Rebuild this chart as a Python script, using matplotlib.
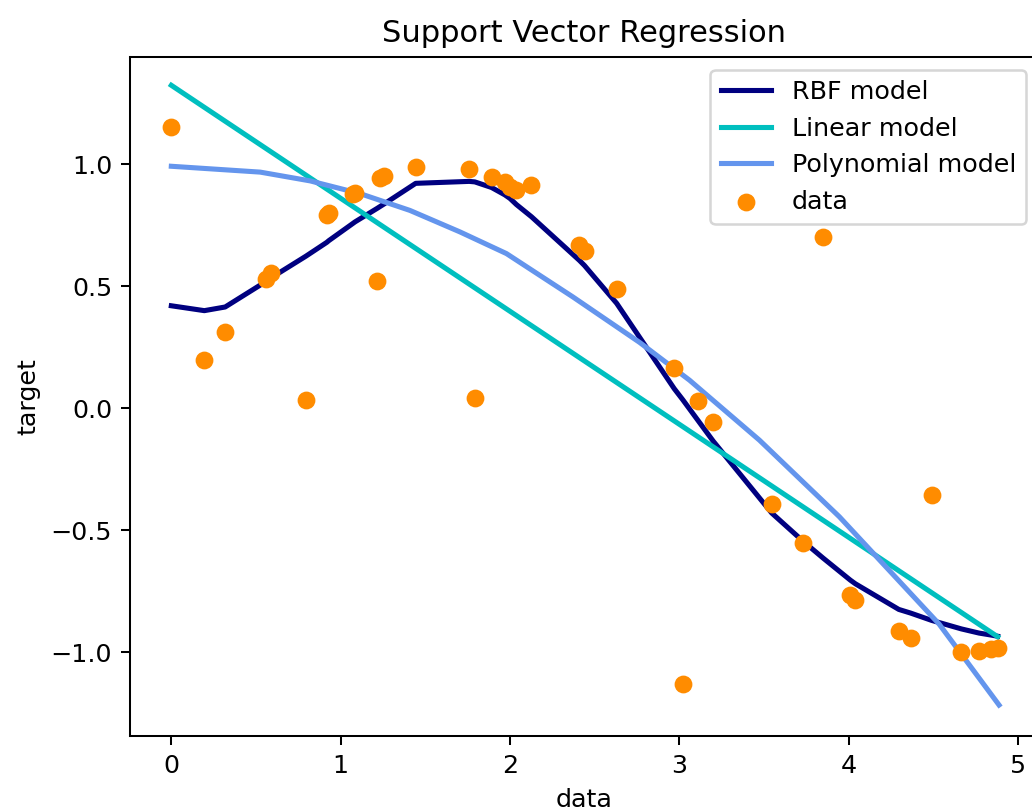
import matplotlib
matplotlib.use("Agg")
import matplotlib.pyplot as plt

# ── Data ──────────────────────────────────────────────────────────────────────

data_x = [0.00, 0.195, 0.318, 0.56, 0.59, 0.794, 0.918, 0.93, 1.071, 1.085,
          1.217, 1.235, 1.258, 1.443, 1.759, 1.792, 1.891, 1.969, 2.00, 2.038,
          2.127, 2.41, 2.44, 2.63, 2.97, 3.02, 3.11, 3.20, 3.546, 3.73,
          3.85, 4.01, 4.04, 4.296, 4.366, 4.49, 4.666, 4.77, 4.84, 4.88]
data_y = [1.153, 0.197, 0.311, 0.530, 0.556, 0.033, 0.794, 0.801, 0.878, 0.884,
          0.522, 0.944, 0.951, 0.990, 0.982, 0.040, 0.950, 0.928, 0.909, 0.893,
          0.914, 0.668, 0.645, 0.488, 0.165, -1.131, 0.031, -0.058, -0.392, -0.553,
          0.702, -0.765, -0.785, -0.914, -0.944, -0.354, -0.998, -0.995, -0.988, -0.985]

# RBF model evaluated at data_x
rbf_y = [0.420, 0.400, 0.415, 0.520, 0.535, 0.623, 0.680, 0.687, 0.757, 0.764,
         0.820, 0.828, 0.838, 0.922, 0.930, 0.928, 0.905, 0.875, 0.860, 0.835,
         0.785, 0.606, 0.585, 0.430, 0.080, 0.035, -0.050, -0.135, -0.430, -0.545,
         -0.615, -0.705, -0.720, -0.825, -0.840, -0.870, -0.905, -0.922, -0.930, -0.935]

lin_x = [0.00, 4.88]
lin_y = [1.324, -0.937]

poly_x = [0.00, 0.525, 0.82, 1.114, 1.409, 1.704, 1.979, 2.372, 2.765, 3.06,
          3.473, 3.945, 4.534, 4.888]
poly_y = [0.992, 0.968, 0.932, 0.880, 0.811, 0.723, 0.634, 0.456, 0.270, 0.115,
          -0.131, -0.445, -0.885, -1.217]

# ── Style (reference is a default-style plot scaled ~1.83x) ──────────────────

S = 1.83
plt.rcParams.update({
    "font.size": 10 * S,
    "axes.titlesize": 12 * S,
    "axes.linewidth": 0.8 * S,
    "axes.titlepad": 6 * S,
    "axes.labelpad": 4 * S,
    "xtick.major.size": 3.5 * S,
    "ytick.major.size": 3.5 * S,
    "xtick.major.width": 0.8 * S,
    "ytick.major.width": 0.8 * S,
    "xtick.major.pad": 3.5 * S,
    "ytick.major.pad": 3.5 * S,
    "patch.linewidth": 1.0 * S,
})

fig = plt.figure(figsize=(10.32, 8.09), dpi=100)
ax = fig.add_axes([130 / 1032, 73 / 809, 909 / 1032, 679 / 809])

lw = 2 * S
ax.plot(data_x, rbf_y, color="navy", lw=lw, label="RBF model")
ax.plot(lin_x, lin_y, color="c", lw=lw, label="Linear model")
ax.plot(poly_x, poly_y, color="cornflowerblue", lw=lw, label="Polynomial model")
ax.scatter(data_x, data_y, color="darkorange", s=36 * S * S, label="data", zorder=3)

ax.set_xlim(-0.244, 5.124)
ax.set_ylim(-1.344, 1.44)
ax.set_xticks([0, 1, 2, 3, 4, 5])
ax.set_yticks([-1.0, -0.5, 0.0, 0.5, 1.0])

ax.set_xlabel("data")
ax.set_ylabel("target")
ax.set_title("Support Vector Regression")
ax.legend(loc="upper right")

fig.savefig("out.png", dpi=100)
